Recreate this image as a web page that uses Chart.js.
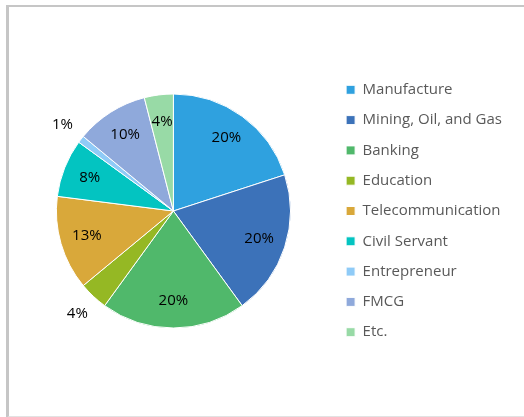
<!DOCTYPE html>
<html>
<head>
<meta charset="utf-8">
<script src="https://cdn.jsdelivr.net/npm/chart.js@4.4.1/dist/chart.umd.min.js"></script>
<style>
  html, body { margin: 0; padding: 0; background: #ffffff; }
  #wrap { position: relative; width: 524px; height: 417px; overflow: hidden; }
  #frame {
    position: absolute; left: 6px; top: 5px; width: 530px; height: 409px;
    border-left: 3px solid #c6c6c6; border-top: 2px solid #c6c6c6;
    border-bottom: 2px solid #e2e2e2;
  }
  canvas { position: absolute; left: 0; top: 0; }
</style>
</head>
<body>
<div id="wrap">
  <div id="frame"></div>
  <canvas id="chart" width="524" height="417"></canvas>
</div>
<script>
// Sectors and their share of respondents (%)
const sectors = [
  'Manufacture', 'Mining, Oil, and Gas', 'Banking', 'Education',
  'Telecommunication', 'Civil Servant', 'Entrepreneur', 'FMCG', 'Etc.'
];
const shares = [20, 20, 20, 4, 13, 8, 1, 10, 4];
const sectorColors = [
  '#2fa1df', '#3c72b9', '#50b86b', '#95b824',
  '#d9a83a', '#03c4c1', '#8fcbf7', '#8fa9db', '#98daa6'
];

// Writes each slice's percentage; narrow slices get their label outside the pie
const sliceLabels = {
  id: 'sliceLabels',
  afterDatasetsDraw(chart, args, opts) {
    const ctx = chart.ctx;
    const meta = chart.getDatasetMeta(0);
    const values = chart.data.datasets[0].data;
    ctx.save();
    ctx.font = opts.font;
    ctx.fillStyle = opts.color;
    ctx.textAlign = 'center';
    ctx.textBaseline = 'middle';
    meta.data.forEach((arc, i) => {
      const p = arc.getProps(['x', 'y', 'startAngle', 'endAngle', 'outerRadius'], true);
      const mid = (p.startAngle + p.endAngle) / 2;
      const outside = opts.outside.includes(chart.data.labels[i]);
      const r = p.outerRadius * (outside ? opts.outerFactor : opts.innerFactor);
      ctx.fillText(values[i] + '%', p.x + Math.cos(mid) * r, p.y + Math.sin(mid) * r);
    });
    ctx.restore();
  }
};

new Chart(document.getElementById('chart'), {
  type: 'pie',
  data: {
    labels: sectors,
    datasets: [{
      data: shares,
      backgroundColor: sectorColors,
      borderColor: '#ffffff',
      borderWidth: 1,
      hoverOffset: 0,
      radius: 117
    }]
  },
  options: {
    responsive: false,
    animation: false,
    devicePixelRatio: 1,
    layout: { padding: { left: 16, right: 12, top: 19, bottom: 14 } },
    plugins: {
      tooltip: { enabled: false },
      legend: {
        position: 'right',
        align: 'center',
        labels: {
          boxWidth: 9,
          boxHeight: 9,
          padding: 15.3,
          color: '#595959',
          font: { family: 'Open Sans', size: 15 }
        }
      },
      sliceLabels: {
        font: '15px "Open Sans"',
        color: '#000000',
        outside: ['Education', 'Entrepreneur'],
        innerFactor: 0.77,
        outerFactor: 1.2
      }
    }
  },
  plugins: [sliceLabels]
});
</script>
</body>
</html>
